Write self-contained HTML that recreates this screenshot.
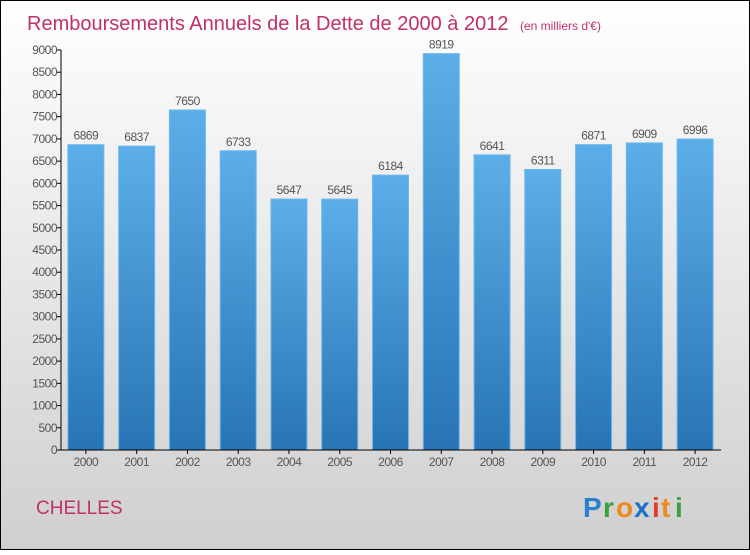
<!DOCTYPE html>
<html><head><meta charset="utf-8"><style>
body{margin:0;width:750px;height:550px;overflow:hidden;font-family:"Liberation Sans",sans-serif}
</style></head><body>
<svg width="750" height="550" xmlns="http://www.w3.org/2000/svg">
<defs>
<linearGradient id="bg" x1="0" y1="0" x2="0" y2="1"><stop offset="0" stop-color="#ffffff"/><stop offset="1" stop-color="#cfcfcf"/></linearGradient>
<linearGradient id="bar" x1="0" y1="0" x2="0" y2="1"><stop offset="0" stop-color="#5caee8"/><stop offset="1" stop-color="#2874b4"/></linearGradient>
</defs>
<rect x="0.5" y="0.5" width="749" height="549" fill="url(#bg)" stroke="#000"/>
<text x="27" y="30" font-size="20" fill="#c0306a">Remboursements Annuels de la Dette de 2000 à 2012 <tspan font-size="12" dx="6">(en milliers d'€)</tspan></text>
<g id="yaxis"></g>
<g id="bars"></g>
<g id="xaxis"></g>
<text x="36" y="514" font-size="19" fill="#c0306a">CHELLES</text>
<g font-size="28" font-weight="bold" font-family="Liberation Sans, sans-serif">
<text x="583" y="517" fill="#2a7fd0">P</text><text x="603" y="517" fill="#3aa040">r</text><text x="616" y="517" fill="#f08a1c">o</text><text x="634" y="517" fill="#1f6fc8">x</text><text x="652" y="517" fill="#e0402a">i</text><text x="661" y="517" fill="#f08a1c">t</text><text x="675" y="517" fill="#3aa040">i</text>
</g>
</svg>
<script>
const categories=["2000","2001","2002","2003","2004","2005","2006","2007","2008","2009","2010","2011","2012"];
const values=[6869,6837,7650,6733,5647,5645,6184,8919,6641,6311,6871,6909,6996];
const yTicks=[0,500,1000,1500,2000,2500,3000,3500,4000,4500,5000,5500,6000,6500,7000,7500,8000,8500,9000];
const NS="http://www.w3.org/2000/svg";
const x0=61,x1=721,yTop=50,yBot=450,yMax=9000;
const y=v=>yBot-(v/yMax)*(yBot-yTop);
const step=(x1-x0)/categories.length;
const xc=i=>x0+step*(i+0.5)-0.5;
function mk(t,a,p){const e=document.createElementNS(NS,t);for(const k in a)e.setAttribute(k,a[k]);p.appendChild(e);return e;}
const ya=document.getElementById('yaxis'),ba=document.getElementById('bars'),xa=document.getElementById('xaxis');
let l=mk('line',{x1:x0,y1:yTop,x2:x0,y2:yBot,stroke:'#000'},ya);


yTicks.forEach(v=>{
 const t=mk('line',{x1:x0-4,y1:y(v),x2:x0,y2:y(v),stroke:'#000'},ya);
 
 
 const tx=mk('text',{x:x0-4,y:y(v)+4,'text-anchor':'end','font-size':12,fill:'#555','letter-spacing':'-0.5'},ya);
 tx.textContent=v;
 
 
});
l=mk('line',{x1:x0,y1:yBot,x2:x1,y2:yBot,stroke:'#000'},xa);


categories.forEach((c,i)=>{
 const w=36,v=values[i];
 const r=mk('rect',{x:xc(i)-w/2,y:y(v),width:w,height:yBot-y(v),fill:'url(#bar)',stroke:'#6cb8ee','stroke-width':1},ba);
 
 
 const lb=mk('text',{x:xc(i),y:y(v)-5,'text-anchor':'middle','font-size':12,fill:'#555','letter-spacing':'-0.5'},ba);
 lb.textContent=v;
 
 
 const tk=mk('line',{x1:xc(i),y1:yBot,x2:xc(i),y2:yBot+4,stroke:'#000'},xa);
 
 
 const xt=mk('text',{x:xc(i),y:yBot+16,'text-anchor':'middle','font-size':12,fill:'#555','letter-spacing':'-0.5'},xa);
 xt.textContent=c;
 
 
});
</script>
</body></html>
